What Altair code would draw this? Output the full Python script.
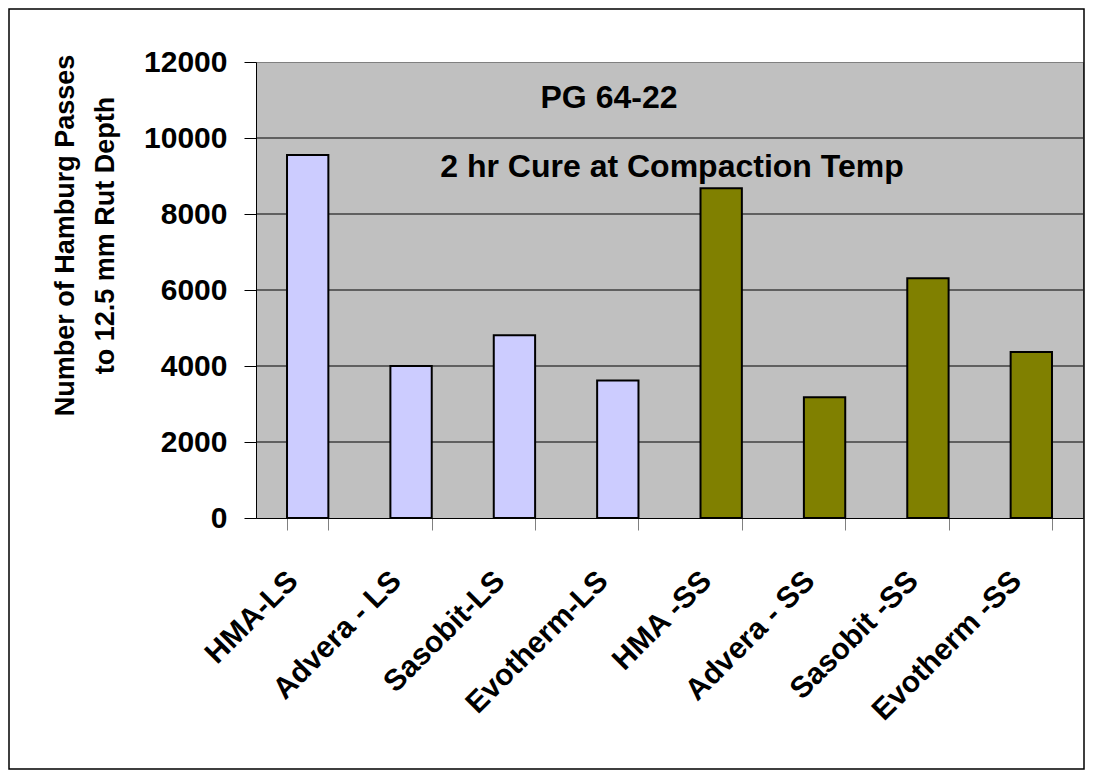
import altair as alt
import pandas as pd

categories = ["HMA-LS", "Advera - LS", "Sasobit-LS", "Evotherm-LS",
              "HMA -SS", "Advera - SS", "Sasobit -SS", "Evotherm -SS"]
passes = [9550, 4000, 4810, 3620, 8680, 3180, 6310, 4370]
groups = ["LS", "LS", "LS", "LS", "SS", "SS", "SS", "SS"]
y_ticks = [0, 2000, 4000, 6000, 8000, 10000, 12000]
grid_lines = [2000, 4000, 6000, 8000, 10000]
group_names = ["LS", "SS"]
group_colors = ["#CCCCFF", "#808000"]
notes = ["PG 64-22", "2 hr Cure at Compaction Temp"]
y_title = ["Number of Hamburg Passes", "to 12.5 mm Rut Depth"]

FONT = "Liberation Sans"
W, H = 827, 456

df = pd.DataFrame({"cat": categories, "val": passes, "grp": groups})
y_scale = alt.Scale(domain=[0, 12000], nice=False)

y_axis = alt.Axis(values=y_ticks, format="d", labelFontSize=30,
                  labelFontWeight="bold", labelFont=FONT,
                  labelColor="black", labelPadding=17, tickSize=12,
                  tickColor="black", tickWidth=1, domainColor="black",
                  domainWidth=1, grid=False,
                  title=y_title, titleFont=FONT, titleFontSize=27,
                  titleFontWeight="bold", titleColor="black",
                  titleAngle=270, titleAlign="center",
                  titleBaseline="bottom", titleX=-177, titleY=173,
                  titleLineHeight=40)

grid = alt.Chart(pd.DataFrame({"g": grid_lines})).mark_rule(
    color="black", strokeWidth=1).encode(
    y=alt.Y("g:Q", scale=y_scale, axis=y_axis))

bars = alt.Chart(df).mark_bar(stroke="black", strokeWidth=2).encode(
    x=alt.X("cat:N", sort=categories,
            scale=alt.Scale(paddingInner=0.6, paddingOuter=0.3),
            axis=alt.Axis(title=None, labelAngle=315, labelAlign="right",
                          labelBaseline="middle", labelFontSize=30,
                          labelFontWeight="bold", labelFont=FONT,
                          labelColor="black", labelPadding=46, labelOffset=-15,
                          labelLimit=400, labelOverlap=False, labelFlush=False,
                          tickBand="extent", tickColor="#808080", tickSize=12,
                          tickWidth=1, domainColor="black", domainWidth=1,
                          grid=False)),
    y=alt.Y("val:Q", scale=y_scale, axis=y_axis),
    color=alt.Color("grp:N", scale=alt.Scale(domain=group_names, range=group_colors),
                    legend=None),
)

note1 = alt.Chart(pd.DataFrame({"t": [notes[0]]})).mark_text(
    font=FONT, fontSize=32, fontWeight="bold", color="black",
    align="center", baseline="alphabetic").encode(
    text="t:N", x=alt.value(609 - 256), y=alt.value(108 - 62))

note2 = alt.Chart(pd.DataFrame({"t": [notes[1]]})).mark_text(
    font=FONT, fontSize=32, fontWeight="bold", color="black",
    align="center", baseline="alphabetic").encode(
    text="t:N", x=alt.value(672 - 256), y=alt.value(177 - 62))

frame = alt.Chart(pd.DataFrame({"k": [0]})).mark_rect(
    filled=False, stroke="black", strokeWidth=1.5).encode(
    x=alt.value(-247), x2=alt.value(828), y=alt.value(-53), y2=alt.value(707))

chart = alt.layer(frame, grid, bars, note1, note2).properties(
    width=W, height=H,
    autosize=alt.AutoSizeParams(type="none"),
    padding={"left": 248, "top": 54, "right": 2, "bottom": 252},
    background="white",
).configure_view(fill="#C0C0C0", stroke="#808080", strokeWidth=1)

chart.save("out.html", embed_options={"renderer": "svg", "actions": False})
